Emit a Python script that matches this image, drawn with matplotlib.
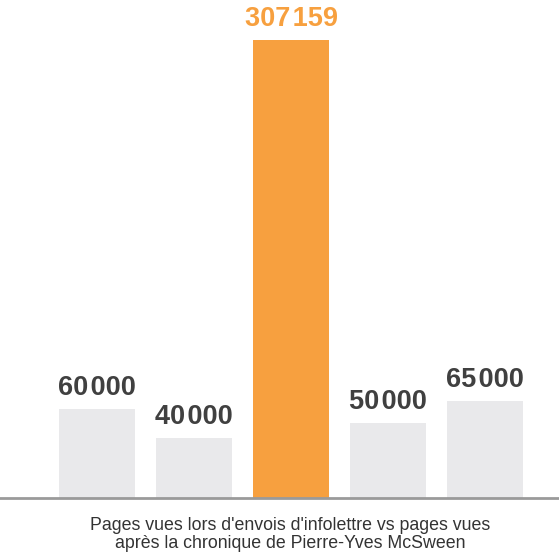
import matplotlib.pyplot as plt
from matplotlib import font_manager

categories = ['Infolettre 1', 'Infolettre 2', 'Chronique McSween', 'Infolettre 3', 'Infolettre 4']
values = [60000, 40000, 307159, 50000, 65000]
labels = ['60\u200a000', '40\u200a000', '307\u200a159', '50\u200a000', '65\u200a000']
highlight = 2
caption = "Pages vues lors d'envois d'infolettre vs pages vues\naprès la chronique de Pierre-Yves McSween"

names = {f.name for f in font_manager.fontManager.ttflist}
label_font = 'Liberation Sans Narrow' if 'Liberation Sans Narrow' in names else 'Liberation Sans'

orange = '#F7A03F'
grey_bar = '#E9E9EB'
dark = '#404040'

fig = plt.figure(figsize=(5.59, 5.6), dpi=100)
ax = fig.add_axes([0, 62 / 560, 1, 498 / 560])

colors = [orange if i == highlight else grey_bar for i in range(len(values))]
x = range(len(values))
ax.bar(x, values, width=0.78, color=colors, zorder=2)

for i, (v, lab) in enumerate(zip(values, labels)):
    ax.annotate(lab, (i, v), xytext=(0, 8), textcoords='offset pixels',
                ha='center', va='bottom', fontsize=19.5, fontweight='bold',
                family=label_font, color=orange if i == highlight else dark)

ax.set_xlim(-1, 4.76)
ax.set_ylim(0, 334000)
ax.axhline(0, color='#9a9a9a', lw=2, zorder=3, clip_on=False)
ax.axis('off')

fig.text(0.519, 0.0455, caption, ha='center', va='center', fontsize=12.8,
         family='Liberation Sans', color='#333333', linespacing=1.05)

fig.savefig('out.png', dpi=100)
